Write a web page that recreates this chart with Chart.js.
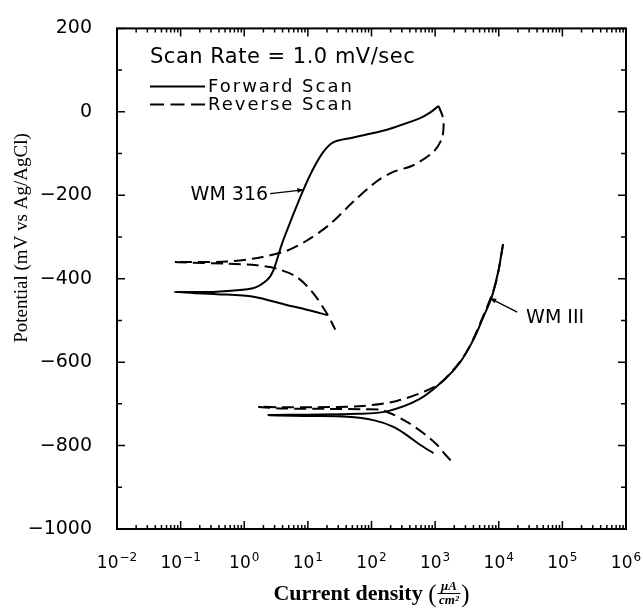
<!DOCTYPE html>
<html>
<head>
<meta charset="utf-8">
<script src="https://cdn.jsdelivr.net/npm/chart.js@4.4.1/dist/chart.umd.min.js"></script>
<style>
  html, body { margin: 0; padding: 0; background: #fff; }
</style>
</head>
<body>
<canvas id="chart" width="643" height="614"></canvas>
<script>
// WM 316, forward scan (cathodic end -> Ecorr -> anodic peak)
const wm316ForwardX = [20, 10, 4.65, 1.39, 0.37, 0.08, 0.37, 1.37, 2.26, 2.87, 3.9, 5.9, 8.5, 12.2, 17.5, 25, 50, 136, 219, 580, 830, 1130];
const wm316ForwardY = [-487, -475, -463, -443, -437, -432, -431, -423, -404, -380, -317, -246, -187, -136, -96, -73, -62, -47, -38, -15, -2, 14];

// WM 316, reverse scan
const wm316ReverseX = [1130, 1300, 1360, 1270, 940, 455, 220, 120, 52, 22, 9.5, 4.65, 1.78, 0.53, 0.08, 0.53, 1.57, 3.24, 6.7, 12.2, 19.8, 27];
const wm316ReverseY = [14, -9, -33, -65, -96, -128, -144, -167, -215, -270, -309, -333, -349, -359, -360, -364, -368, -376, -396, -435, -483, -522];

// WM III, forward scan
const wm3ForwardX = [940, 580, 359, 221, 107, 41, 10.8, 2.4, 10, 60, 174, 575, 1350, 2450, 4000, 5760, 7800, 9900, 11000, 11700];
const wm3ForwardY = [-818, -798, -775, -755, -739, -731, -729, -727, -726, -724, -718, -688, -644, -601, -546, -491, -443, -380, -341, -317];

// WM III, reverse scan
const wm3ReverseX = [11700, 9000, 5500, 3000, 1350, 740, 250, 74, 12.3, 3.6, 1.65, 4, 20, 80, 154, 359, 665, 1070, 1450, 1820];
const wm3ReverseY = [-317, -410, -495, -580, -644, -668, -693, -705, -708, -708, -707, -711, -712, -713, -716, -743, -771, -798, -822, -838];

const xTickValues = [1e-2, 1e-1, 1, 10, 100, 1e3, 1e4, 1e5, 1e6];
const xTickExponents = ['\u22122', '\u22121', '0', '1', '2', '3', '4', '5', '6'];
const yTickValues = [-1000, -800, -600, -400, -200, 0, 200];
const yTickLabels = ['\u22121000', '\u2212800', '\u2212600', '\u2212400', '\u2212200', '0', '200'];

const legendTitle = 'Scan Rate = 1.0 mV/sec';
const legendItems = [
  { text: 'Forward Scan', dash: [] },
  { text: 'Reverse Scan', dash: [14, 6.5] }
];

// labels pointing at the curves, in data coordinates
const notes = [
  { text: 'WM 316', tx: 2.37, ty: -199, align: 'right', fx: 2.55, fy: -196, ax: 8.5, ay: -187 },
  { text: 'WM III', tx: 26900, ty: -495, align: 'left', fx: 19500, fy: -480, ax: 7330, ay: -447 }
];

function toPoints(xs, ys) {
  return xs.map((x, i) => ({ x: x, y: ys[i] }));
}

const SANS = '"DejaVu Sans", sans-serif';
const SERIF = '"Liberation Serif", "Times New Roman", serif';

const framePlugin = {
  id: 'frame',
  afterDraw(chart) {
    const { ctx, chartArea: a, scales: { x, y } } = chart;
    ctx.save();
    ctx.strokeStyle = '#000';
    ctx.fillStyle = '#000';

    // box
    ctx.lineWidth = 2;
    ctx.strokeRect(a.left, a.top, a.right - a.left, a.bottom - a.top);

    // inward tick marks on all four sides
    ctx.lineWidth = 1.5;
    ctx.beginPath();
    xTickValues.forEach(v => {
      for (let m = 1; m < 10; m++) {
        const val = v * m;
        if (val > x.max * 1.0001) break;
        const px = x.getPixelForValue(val);
        const len = m === 1 ? 8 : 4;
        ctx.moveTo(px, a.bottom); ctx.lineTo(px, a.bottom - len);
        ctx.moveTo(px, a.top); ctx.lineTo(px, a.top + len);
      }
    });
    for (let v = y.min; v <= y.max; v += 100) {
      const py = y.getPixelForValue(v);
      const len = v % 200 === 0 ? 8 : 5;
      ctx.moveTo(a.left, py); ctx.lineTo(a.left + len, py);
      ctx.moveTo(a.right, py); ctx.lineTo(a.right - len, py);
    }
    ctx.stroke();

    // x tick labels: 10 with superscript exponent
    ctx.textBaseline = 'alphabetic';
    ctx.textAlign = 'left';
    xTickValues.forEach((v, i) => {
      const px = x.getPixelForValue(v);
      ctx.font = '17px ' + SANS;
      const wb = ctx.measureText('10').width;
      ctx.font = '12px ' + SANS;
      const we = ctx.measureText(xTickExponents[i]).width;
      const start = px - (wb + we + 1) / 2;
      ctx.font = '17px ' + SANS;
      ctx.fillText('10', start, a.bottom + 39);
      ctx.font = '12px ' + SANS;
      ctx.fillText(xTickExponents[i], start + wb + 1, a.bottom + 32);
    });

    // x axis title with the stacked unit
    const part1 = 'Current density ';
    ctx.font = 'bold 22px ' + SERIF;
    const w1 = ctx.measureText(part1).width;
    ctx.font = '25px ' + SERIF;
    const wp = ctx.measureText('(').width;
    ctx.font = 'italic bold 13px ' + SERIF;
    const wn = ctx.measureText('\u03bcA').width;
    const wd = ctx.measureText('cm\u00b2').width;
    const wf = Math.max(wn, wd) + 5;
    const total = w1 + wp + wf + wp;
    let cx = (a.left + a.right) / 2 - total / 2;
    const base = a.bottom + 71;
    ctx.font = 'bold 22px ' + SERIF;
    ctx.fillText(part1, cx, base);
    cx += w1;
    ctx.font = '25px ' + SERIF;
    ctx.fillText('(', cx, base + 2);
    cx += wp;
    ctx.font = 'italic bold 13px ' + SERIF;
    ctx.fillText('\u03bcA', cx + (wf - wn) / 2, base - 10);
    ctx.fillText('cm\u00b2', cx + (wf - wd) / 2, base + 4);
    ctx.lineWidth = 1;
    ctx.beginPath();
    ctx.moveTo(cx + 1, base - 6.5);
    ctx.lineTo(cx + wf - 1, base - 6.5);
    ctx.stroke();
    cx += wf;
    ctx.font = '25px ' + SERIF;
    ctx.fillText(')', cx, base + 2);

    // y axis title
    ctx.save();
    ctx.translate(22, 238);
    ctx.rotate(-Math.PI / 2);
    ctx.textAlign = 'center';
    ctx.textBaseline = 'middle';
    ctx.font = '19px ' + SERIF;
    ctx.fillText('Potential (mV vs Ag/AgCl)', 0, 0);
    ctx.restore();

    // legend block in the upper left corner
    const lx = a.left + 33;
    ctx.textAlign = 'left';
    ctx.textBaseline = 'middle';
    ctx.font = '21px ' + SANS;
    ctx.letterSpacing = '0.5px';
    ctx.fillText(legendTitle, lx, a.top + 29);
    ctx.font = '18px ' + SANS;
    ctx.letterSpacing = '2px';
    ctx.lineWidth = 2;
    legendItems.forEach((item, i) => {
      const ly = a.top + 58 + i * 18;
      ctx.setLineDash(item.dash);
      ctx.beginPath();
      ctx.moveTo(lx, ly);
      ctx.lineTo(lx + 55, ly);
      ctx.stroke();
      ctx.setLineDash([]);
      ctx.fillText(item.text, lx + 58, ly + 1);
    });
    ctx.letterSpacing = '0px';

    // curve labels with arrows
    ctx.font = '19px ' + SANS;
    ctx.lineWidth = 1.3;
    notes.forEach(n => {
      ctx.textAlign = n.align;
      ctx.fillText(n.text, x.getPixelForValue(n.tx), y.getPixelForValue(n.ty));
      const x0 = x.getPixelForValue(n.fx), y0 = y.getPixelForValue(n.fy);
      const x1 = x.getPixelForValue(n.ax), y1 = y.getPixelForValue(n.ay);
      ctx.beginPath();
      ctx.moveTo(x0, y0);
      ctx.lineTo(x1, y1);
      ctx.stroke();
      const ang = Math.atan2(y1 - y0, x1 - x0);
      ctx.beginPath();
      ctx.moveTo(x1, y1);
      ctx.lineTo(x1 - 6 * Math.cos(ang) + 2.5 * Math.sin(ang), y1 - 6 * Math.sin(ang) - 2.5 * Math.cos(ang));
      ctx.lineTo(x1 - 6 * Math.cos(ang) - 2.5 * Math.sin(ang), y1 - 6 * Math.sin(ang) + 2.5 * Math.cos(ang));
      ctx.closePath();
      ctx.fill();
    });

    ctx.restore();
  }
};

function series(xs, ys, dash) {
  return {
    data: toPoints(xs, ys),
    borderColor: '#000',
    borderWidth: 2,
    borderDash: dash,
    pointRadius: 0,
    tension: 0.3,
    fill: false
  };
}

new Chart(document.getElementById('chart'), {
  type: 'line',
  data: {
    datasets: [
      series(wm316ForwardX, wm316ForwardY, []),
      series(wm316ReverseX, wm316ReverseY, [12, 6]),
      series(wm3ForwardX, wm3ForwardY, []),
      series(wm3ReverseX, wm3ReverseY, [12, 6])
    ]
  },
  options: {
    responsive: false,
    animation: false,
    devicePixelRatio: 1,
    layout: { padding: { top: 21, right: 17, left: 0, bottom: 0 } },
    plugins: {
      legend: { display: false },
      tooltip: { enabled: false }
    },
    elements: { line: { borderJoinStyle: 'round', borderCapStyle: 'butt' } },
    scales: {
      x: {
        type: 'logarithmic',
        min: 0.01,
        max: 1e6,
        grid: { display: false },
        border: { display: false },
        ticks: { display: false },
        afterBuildTicks(scale) {
          scale.ticks = xTickValues.map(v => ({ value: v }));
        },
        afterFit(scale) {
          scale.height = 85;
        }
      },
      y: {
        type: 'linear',
        min: -1000,
        max: 200,
        grid: { display: false },
        border: { display: false },
        ticks: {
          color: '#000',
          padding: 17,
          font: { family: 'DejaVu Sans', size: 19 },
          callback: v => yTickLabels[yTickValues.indexOf(v)]
        },
        afterBuildTicks(scale) {
          scale.ticks = yTickValues.map(v => ({ value: v }));
        },
        afterFit(scale) {
          scale.width = 117;
        }
      }
    }
  },
  plugins: [framePlugin]
});
</script>
</body>
</html>
